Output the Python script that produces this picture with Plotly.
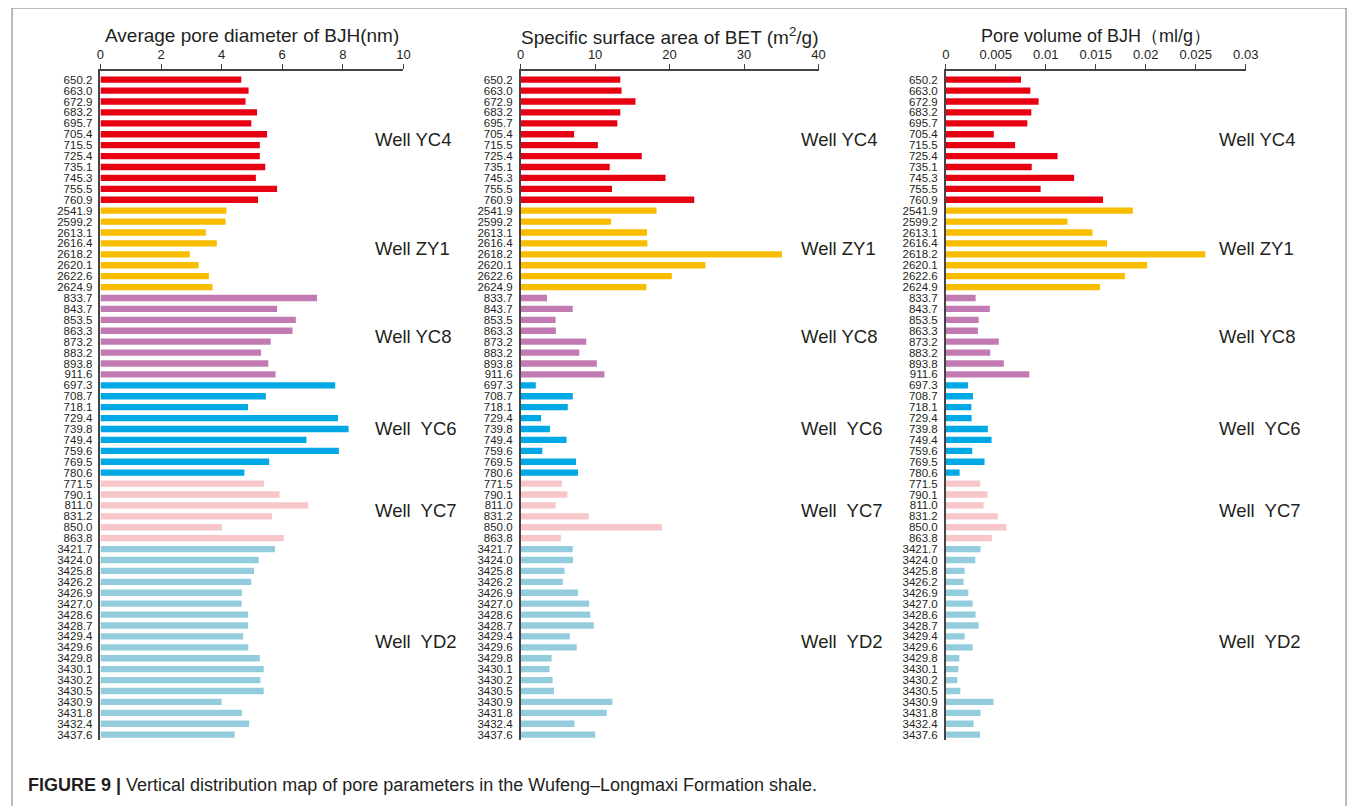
"""VERTICAL DISTRIBUTION OF PORE PARAMETERS (THREE BAR PANELS)"""
import plotly.graph_objects as go

# wells, top to bottom
WELLS = ["Well YC4", "Well ZY1", "Well YC8", "Well\u00a0 YC6", "Well\u00a0 YC7", "Well\u00a0 YD2"]
WELL_COLORS = ["#E60012", "#F9BD00", "#C27BB2", "#00A9E6", "#F6C6C9", "#93CDDD"]

DEPTH_YC4 = ["650.2", "663.0", "672.9", "683.2", "695.7", "705.4",
             "715.5", "725.4", "735.1", "745.3", "755.5", "760.9"]
DEPTH_ZY1 = ["2541.9", "2599.2", "2613.1", "2616.4", "2618.2", "2620.1", "2622.6", "2624.9"]
DEPTH_YC8 = ["833.7", "843.7", "853.5", "863.3", "873.2", "883.2", "893.8", "911.6"]
DEPTH_YC6 = ["697.3", "708.7", "718.1", "729.4", "739.8", "749.4", "759.6", "769.5", "780.6"]
DEPTH_YC7 = ["771.5", "790.1", "811.0", "831.2", "850.0", "863.8"]
DEPTH_YD2 = ["3421.7", "3424.0", "3425.8", "3426.2", "3426.9", "3427.0", "3428.6", "3428.7",
             "3429.4", "3429.6", "3429.8", "3430.1", "3430.2", "3430.5", "3430.9", "3431.8",
             "3432.4", "3437.6"]

# average pore diameter of BJH (nm)
PORE_DIAMETER = [
    4.65, 4.89, 4.79, 5.17, 4.98, 5.50, 5.26, 5.26, 5.44, 5.13, 5.83, 5.20,  # YC4
    4.16, 4.13, 3.48, 3.84, 2.95, 3.24, 3.58, 3.70,  # ZY1
    7.15, 5.83, 6.45, 6.34, 5.62, 5.30, 5.54, 5.78,  # YC8
    7.75, 5.46, 4.87, 7.84, 8.19, 6.80, 7.87, 5.57, 4.75,  # YC6
    5.40, 5.91, 6.86, 5.66, 4.01, 6.05,  # YC7
    5.76, 5.22, 5.07, 4.98, 4.67, 4.66, 4.87, 4.87, 4.71,
    4.88, 5.26, 5.39, 5.28, 5.39, 4.00, 4.67, 4.91, 4.43,  # YD2
]

# specific surface area of BET (m2/g)
SURFACE_AREA = [
    13.38, 13.55, 15.42, 13.38, 12.98, 7.18, 10.37, 16.26, 11.96, 19.45, 12.27, 23.30,  # YC4
    18.25, 12.14, 16.97, 17.01, 35.08, 24.81, 20.29, 16.88,  # ZY1
    3.54, 7.00, 4.70, 4.74, 8.81, 7.88, 10.23, 11.25,  # YC8
    2.04, 7.00, 6.33, 2.75, 3.94, 6.16, 2.92, 7.44, 7.71,  # YC6
    5.54, 6.29, 4.70, 9.13, 18.96, 5.40,  # YC7
    7.00, 7.04, 5.89, 5.67, 7.71, 9.21, 9.35, 9.83, 6.60,
    7.53, 4.16, 3.90, 4.30, 4.47, 12.31, 11.56, 7.22, 10.01,  # YD2
]

# pore volume of BJH (ml/g)
PORE_VOLUME = [
    0.00753, 0.00846, 0.00929, 0.00856, 0.00816, 0.00481,
    0.00694, 0.01118, 0.00860, 0.01284, 0.00949, 0.01573,  # YC4
    0.01872, 0.01218, 0.01467, 0.01613, 0.02595, 0.02014, 0.01792, 0.01543,  # ZY1
    0.00299, 0.00441, 0.00329, 0.00322, 0.00531, 0.00445, 0.00581, 0.00836,  # YC8
    0.00222, 0.00272, 0.00256, 0.00259, 0.00421, 0.00458, 0.00265, 0.00388, 0.00139,  # YC6
    0.00345, 0.00418, 0.00378, 0.00521, 0.00607, 0.00461,  # YC7
    0.00348, 0.00295, 0.00189, 0.00179, 0.00226, 0.00269, 0.00299, 0.00329, 0.00189,
    0.00269, 0.00136, 0.00126, 0.00116, 0.00146, 0.00478, 0.00348, 0.00279, 0.00342,  # YD2
]

PANEL_TITLES = [
    "Average pore diameter of BJH(nm)",
    "Specific surface area of BET (m<sup>2</sup>/g)",
    "Pore volume of BJH\uff08ml/g\uff09",
]
PANEL_RANGES = [10, 40, 0.03]
PANEL_TICKS = [
    [0, 2, 4, 6, 8, 10],
    [0, 10, 20, 30, 40],
    [0, 0.005, 0.01, 0.015, 0.02, 0.025, 0.03],
]
PANEL_TICKTEXT = [
    ["0", "2", "4", "6", "8", "10"],
    ["0", "10", "20", "30", "40"],
    ["0", "0.005", "0.01", "0.015", "0.02", "0.025", "0.03"],
]
CAPTION = ("<b>FIGURE 9 |</b> Vertical distribution map of pore parameters "
           "in the Wufeng\u2013Longmaxi Formation shale.")

W, H = 1357, 806
OFFSET = 8  # page body margin shifts the plot
SCALE_X = 1357 / 1365  # horizontal squeeze seen in the page capture
FONT = "Arial, Liberation Sans, sans-serif"
TEXT_COLOR = "#231F20"

groups = [DEPTH_YC4, DEPTH_ZY1, DEPTH_YC8, DEPTH_YC6, DEPTH_YC7, DEPTH_YD2]
depths = [d for g in groups for d in g]
colors = [c for g, c in zip(groups, WELL_COLORS) for _ in g]
rows = list(range(len(depths)))

# group centres (row index) for well labels
centres = []
start = 0
for g in groups:
    centres.append(start + (len(g) - 1) / 2)
    start += len(g)

# panel placement in screen pixels
x_px = [(97, 402), (520, 820), (948, 1250)]
y_top, y_bot = 71, 741
well_label_x = [0.90, 0.933, 0.904]
title_sizes = [19, 19, 18]


def px_x(p):
    return (p / SCALE_X - OFFSET) / W


def px_y(p):
    return 1 - (p - OFFSET) / H


fig = go.Figure()
layout = dict(
    width=W,
    height=H,
    margin=dict(t=0, l=0, r=0, b=0),
    paper_bgcolor="white",
    plot_bgcolor="white",
    font=dict(family=FONT, color=TEXT_COLOR),
    showlegend=False,
    bargap=0.45,
)
annotations = []

for i, values in enumerate([PORE_DIAMETER, SURFACE_AREA, PORE_VOLUME]):
    n = "" if i == 0 else i + 1
    fig.add_trace(
        go.Bar(
            x=values,
            y=rows,
            orientation="h",
            marker_color=colors,
            marker_line_width=0,
            width=0.58,
            xaxis=f"x{n}",
            yaxis=f"y{n}",
            hovertemplate="%{customdata}: %{x}<extra></extra>",
            customdata=depths,
        )
    )
    layout[f"xaxis{n}"] = dict(
        domain=[px_x(x_px[i][0]), px_x(x_px[i][1])],
        anchor=f"y{n}",
        side="top",
        range=[0, PANEL_RANGES[i]],
        tickvals=PANEL_TICKS[i],
        ticktext=PANEL_TICKTEXT[i],
        ticks="outside",
        ticklen=5,
        tickcolor="#444",
        tickfont=dict(size=13, color=TEXT_COLOR),
        showline=True,
        linecolor="#444",
        linewidth=1.5,
        showgrid=False,
        zeroline=False,
    )
    layout[f"yaxis{n}"] = dict(
        domain=[px_y(y_bot), px_y(y_top)],
        anchor=f"x{n}",
        range=[len(rows) - 0.5, -0.8],
        tickvals=rows,
        ticktext=depths,
        ticks="",
        ticklabelstandoff=4,
        tickfont=dict(size=11.5, color=TEXT_COLOR),
        showline=True,
        linecolor="#444",
        linewidth=1.5,
        showgrid=False,
        zeroline=False,
    )
    annotations.append(
        dict(
            text=PANEL_TITLES[i],
            xref=f"x{n} domain",
            yref="paper",
            x=0.5,
            y=px_y(36),
            xanchor="center",
            yanchor="middle",
            showarrow=False,
            font=dict(size=title_sizes[i], color=TEXT_COLOR),
        )
    )
    for well, centre in zip(WELLS, centres):
        annotations.append(
            dict(
                text=well,
                xref=f"x{n} domain",
                yref=f"y{n}",
                x=well_label_x[i],
                y=centre,
                xanchor="left",
                yanchor="middle",
                showarrow=False,
                font=dict(size=18.5, color=TEXT_COLOR),
            )
        )

annotations.append(
    dict(
        text=CAPTION,
        xref="paper",
        yref="paper",
        x=px_x(22),
        y=px_y(786),
        xanchor="left",
        yanchor="middle",
        showarrow=False,
        font=dict(size=18, color=TEXT_COLOR,
                  family="Liberation Sans Narrow, Arial Narrow, sans-serif"),
    )
)

layout["annotations"] = annotations
layout["shapes"] = [
    dict(
        type="rect",
        xref="paper",
        yref="paper",
        x0=px_x(8),
        x1=px_x(1351),
        y0=-0.05,
        y1=px_y(8),
        line=dict(color="#777", width=1),
        fillcolor="rgba(0,0,0,0)",
    )
]

fig.update_layout(**layout)
fig.write_html("out.html")
